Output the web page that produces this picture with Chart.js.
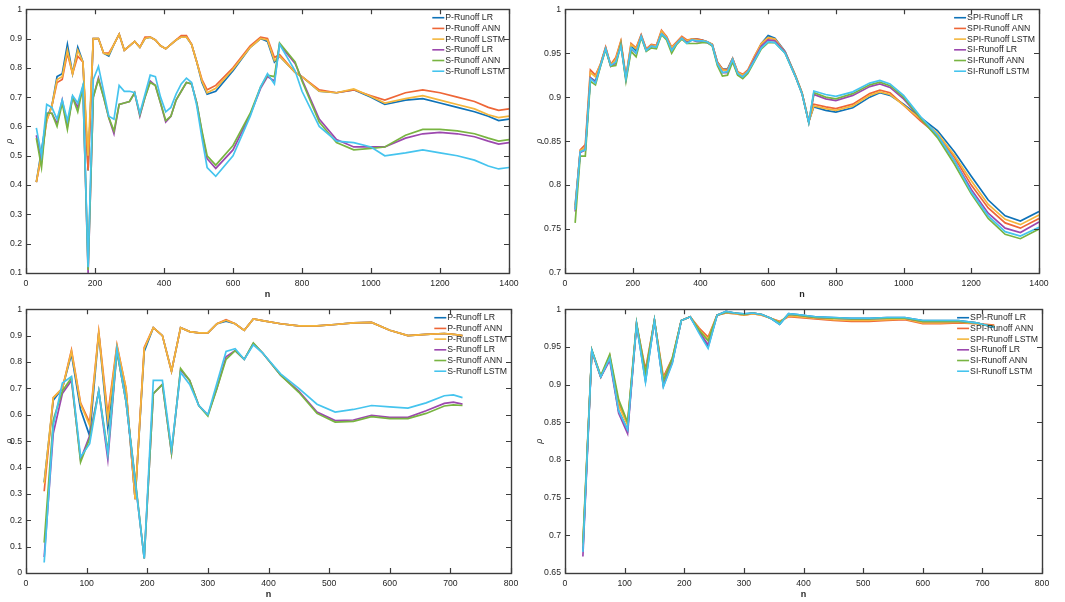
<!DOCTYPE html>
<html>
<head>
<meta charset="utf-8">
<script src="https://cdn.jsdelivr.net/npm/chart.js@4.4.1/dist/chart.umd.min.js"></script>
<style>
  html, body { margin: 0; padding: 0; background: #fff; }
  #page { position: relative; width: 1065px; height: 602px; overflow: hidden; }
  .panel { position: absolute; }
</style>
</head>
<body>
<div id="page">
  <div class="panel" style="left:0;top:0;width:530px;height:300px"><canvas id="tl"></canvas></div>
  <div class="panel" style="left:530px;top:0;width:535px;height:300px"><canvas id="tr"></canvas></div>
  <div class="panel" style="left:0;top:300px;width:530px;height:302px"><canvas id="bl"></canvas></div>
  <div class="panel" style="left:530px;top:300px;width:535px;height:302px"><canvas id="br"></canvas></div>
</div>
<script>
// ---- legend labels ----
const labelsP = ['P-Runoff LR', 'P-Runoff ANN', 'P-Runoff LSTM', 'S-Runoff LR', 'S-Runoff ANN', 'S-Runoff LSTM'];
const labelsSPI = ['SPI-Runoff LR', 'SPI-Runoff ANN', 'SPI-Runoff LSTM', 'SI-Runoff LR', 'SI-Runoff ANN', 'SI-Runoff LSTM'];
const colors = ['#0E72B8', '#EE6637', '#F4B63C', '#9C48AE', '#78B441', '#45C4EE'];

// ---- tick values ----
const xTicksTop = [0, 200, 400, 600, 800, 1000, 1200, 1400];
const xTicksBottom = [0, 100, 200, 300, 400, 500, 600, 700, 800];
const yTicksTL = [0.1, 0.2, 0.3, 0.4, 0.5, 0.6, 0.7, 0.8, 0.9, 1];
const yTicksTR = [0.7, 0.75, 0.8, 0.85, 0.9, 0.95, 1];
const yTicksBL = [0, 0.1, 0.2, 0.3, 0.4, 0.5, 0.6, 0.7, 0.8, 0.9, 1];
const yTicksBR = [0.65, 0.7, 0.75, 0.8, 0.85, 0.9, 0.95, 1];

// ---- top left: P / S runoff ----
const nTL = [30, 45, 60, 75, 90, 105, 120, 135, 150, 165, 180, 195, 210, 225, 240, 255, 270, 285, 300, 315, 330, 345, 360, 375, 390, 405, 420, 435, 450, 465, 480, 495, 510, 525,
  550, 600, 650, 680, 700, 720, 735, 780, 800, 850, 900, 950, 1000, 1040, 1100, 1150, 1200, 1250, 1300, 1340, 1370, 1400];
const tlPLR = [0.41, 0.52, 0.63, 0.67, 0.77, 0.78, 0.88, 0.78, 0.87, 0.82, 0.45, 0.90, 0.90, 0.85, 0.84, 0.88, 0.915, 0.86, 0.875, 0.89, 0.87, 0.90, 0.905, 0.895, 0.875, 0.865, 0.88, 0.895, 0.905, 0.905, 0.88, 0.82, 0.75, 0.71,
  0.72, 0.79, 0.87, 0.90, 0.89, 0.82, 0.84, 0.785, 0.77, 0.72, 0.715, 0.725, 0.70, 0.675, 0.69, 0.695, 0.68, 0.665, 0.65, 0.635, 0.62, 0.625];
const tlPANN = [0.41, 0.50, 0.62, 0.67, 0.75, 0.76, 0.85, 0.78, 0.84, 0.82, 0.45, 0.90, 0.90, 0.85, 0.85, 0.88, 0.915, 0.86, 0.875, 0.89, 0.87, 0.905, 0.905, 0.895, 0.875, 0.865, 0.88, 0.895, 0.91, 0.91, 0.88, 0.82, 0.76, 0.725,
  0.74, 0.80, 0.875, 0.905, 0.90, 0.835, 0.845, 0.785, 0.77, 0.725, 0.715, 0.725, 0.705, 0.69, 0.715, 0.725, 0.715, 0.70, 0.685, 0.665, 0.655, 0.66];
const tlPLSTM = [0.41, 0.51, 0.62, 0.67, 0.76, 0.77, 0.86, 0.78, 0.86, 0.82, 0.50, 0.90, 0.90, 0.85, 0.845, 0.88, 0.915, 0.86, 0.875, 0.89, 0.87, 0.90, 0.905, 0.895, 0.875, 0.865, 0.88, 0.895, 0.905, 0.905, 0.88, 0.82, 0.755, 0.715,
  0.73, 0.795, 0.87, 0.90, 0.895, 0.825, 0.84, 0.785, 0.77, 0.72, 0.715, 0.728, 0.702, 0.68, 0.695, 0.705, 0.69, 0.675, 0.66, 0.64, 0.63, 0.635];
const tlSLR = [0.57, 0.48, 0.645, 0.645, 0.61, 0.69, 0.60, 0.70, 0.665, 0.735, 0.10, 0.70, 0.765, 0.70, 0.63, 0.575, 0.675, 0.68, 0.685, 0.715, 0.635, 0.70, 0.755, 0.74, 0.68, 0.615, 0.635, 0.69, 0.72, 0.75, 0.745, 0.68, 0.58, 0.49,
  0.457, 0.52, 0.64, 0.73, 0.77, 0.755, 0.88, 0.815, 0.76, 0.625, 0.555, 0.53, 0.53, 0.53, 0.56, 0.575, 0.58, 0.575, 0.565, 0.55, 0.54, 0.545];
const tlSANN = [0.56, 0.46, 0.645, 0.645, 0.60, 0.68, 0.59, 0.70, 0.65, 0.735, 0.11, 0.70, 0.76, 0.70, 0.63, 0.585, 0.675, 0.68, 0.685, 0.715, 0.64, 0.70, 0.75, 0.74, 0.68, 0.62, 0.635, 0.69, 0.72, 0.75, 0.745, 0.68, 0.585, 0.50,
  0.468, 0.535, 0.645, 0.735, 0.775, 0.77, 0.885, 0.82, 0.755, 0.615, 0.545, 0.52, 0.525, 0.53, 0.57, 0.59, 0.59, 0.585, 0.575, 0.56, 0.55, 0.555];
const tlSLSTM = [0.595, 0.50, 0.675, 0.665, 0.625, 0.69, 0.62, 0.705, 0.68, 0.74, 0.12, 0.76, 0.805, 0.72, 0.635, 0.625, 0.74, 0.72, 0.72, 0.715, 0.645, 0.71, 0.775, 0.77, 0.70, 0.65, 0.665, 0.71, 0.745, 0.765, 0.75, 0.67, 0.56, 0.46,
  0.43, 0.50, 0.635, 0.735, 0.78, 0.745, 0.88, 0.79, 0.72, 0.60, 0.55, 0.545, 0.53, 0.50, 0.51, 0.52, 0.51, 0.50, 0.485, 0.465, 0.455, 0.46];

// ---- top right: SPI / SI runoff ----
const nTR = [30, 45, 60, 75, 90, 105, 120, 135, 150, 165, 180, 195, 210, 225, 240, 255, 270, 285, 300, 315, 330, 345, 360, 375, 390, 405, 420, 435, 450, 465, 480, 495, 510, 525, 540,
  560, 580, 600, 620, 650, 680, 700, 720, 735, 770, 800, 850, 900, 930, 960, 1000, 1050, 1100, 1150, 1200, 1250, 1300, 1345, 1400];
const trLR = [0.777, 0.838, 0.840, 0.922, 0.918, 0.937, 0.956, 0.936, 0.940, 0.962, 0.922, 0.958, 0.953, 0.970, 0.954, 0.959, 0.958, 0.974, 0.968, 0.955, 0.962, 0.968, 0.963, 0.966, 0.966, 0.965, 0.963, 0.960, 0.940, 0.932, 0.932, 0.944, 0.928, 0.925, 0.930,
  0.945, 0.961, 0.970, 0.967, 0.952, 0.925, 0.905, 0.872, 0.889, 0.885, 0.883, 0.888, 0.900, 0.905, 0.902, 0.892, 0.877, 0.862, 0.838, 0.810, 0.783, 0.765, 0.759, 0.770];
const trANN = [0.773, 0.840, 0.846, 0.931, 0.925, 0.938, 0.957, 0.937, 0.945, 0.964, 0.923, 0.961, 0.956, 0.971, 0.955, 0.960, 0.959, 0.976, 0.969, 0.957, 0.963, 0.969, 0.965, 0.966, 0.966, 0.965, 0.963, 0.960, 0.940, 0.932, 0.931, 0.944, 0.929, 0.926, 0.931,
  0.947, 0.961, 0.967, 0.966, 0.951, 0.925, 0.905, 0.872, 0.892, 0.889, 0.887, 0.892, 0.904, 0.908, 0.905, 0.891, 0.873, 0.857, 0.832, 0.800, 0.774, 0.757, 0.751, 0.762];
const trLSTM = [0.775, 0.839, 0.843, 0.928, 0.923, 0.938, 0.956, 0.936, 0.943, 0.963, 0.922, 0.960, 0.955, 0.970, 0.954, 0.959, 0.958, 0.975, 0.968, 0.956, 0.962, 0.968, 0.964, 0.966, 0.965, 0.964, 0.963, 0.960, 0.939, 0.931, 0.930, 0.943, 0.928, 0.925, 0.930,
  0.946, 0.961, 0.968, 0.966, 0.951, 0.925, 0.905, 0.872, 0.890, 0.887, 0.885, 0.890, 0.902, 0.906, 0.903, 0.891, 0.875, 0.859, 0.834, 0.805, 0.778, 0.761, 0.755, 0.766];
const trSLR = [0.770, 0.837, 0.840, 0.922, 0.917, 0.936, 0.955, 0.935, 0.939, 0.960, 0.920, 0.955, 0.950, 0.969, 0.953, 0.958, 0.957, 0.972, 0.967, 0.953, 0.961, 0.967, 0.962, 0.965, 0.963, 0.963, 0.962, 0.959, 0.938, 0.928, 0.928, 0.942, 0.926, 0.923, 0.929,
  0.944, 0.958, 0.965, 0.964, 0.951, 0.924, 0.904, 0.871, 0.903, 0.898, 0.896, 0.902, 0.912, 0.915, 0.911, 0.898, 0.876, 0.856, 0.828, 0.795, 0.768, 0.751, 0.746, 0.758];
const trSANN = [0.757, 0.833, 0.833, 0.918, 0.914, 0.935, 0.954, 0.935, 0.936, 0.960, 0.918, 0.952, 0.946, 0.968, 0.952, 0.956, 0.955, 0.971, 0.965, 0.950, 0.960, 0.966, 0.961, 0.961, 0.961, 0.962, 0.962, 0.958, 0.936, 0.924, 0.925, 0.940, 0.925, 0.921, 0.927,
  0.941, 0.955, 0.962, 0.962, 0.950, 0.924, 0.904, 0.871, 0.905, 0.900, 0.898, 0.904, 0.914, 0.917, 0.913, 0.900, 0.876, 0.854, 0.824, 0.790, 0.762, 0.744, 0.739, 0.750];
const trSLSTM = [0.772, 0.838, 0.840, 0.921, 0.916, 0.936, 0.955, 0.936, 0.940, 0.958, 0.921, 0.956, 0.950, 0.969, 0.953, 0.958, 0.957, 0.972, 0.967, 0.953, 0.961, 0.967, 0.961, 0.965, 0.964, 0.964, 0.963, 0.959, 0.938, 0.928, 0.929, 0.943, 0.927, 0.923, 0.929,
  0.942, 0.956, 0.963, 0.962, 0.950, 0.924, 0.904, 0.871, 0.907, 0.903, 0.901, 0.906, 0.916, 0.919, 0.915, 0.902, 0.878, 0.857, 0.828, 0.792, 0.765, 0.747, 0.742, 0.752];

// ---- bottom panels share one n grid ----
const nB = [30, 45, 60, 75, 90, 105, 120, 135, 150, 165, 180, 195, 210, 225, 240, 255, 270, 285, 300, 315, 330, 345, 360, 375, 390,
  420, 450, 480, 510, 540, 570, 600, 630, 660, 690, 705, 720];
const blPLR = [0.345, 0.655, 0.70, 0.83, 0.62, 0.52, 0.91, 0.55, 0.85, 0.69, 0.28, 0.84, 0.93, 0.90, 0.765, 0.93, 0.915, 0.91, 0.91, 0.945, 0.955, 0.945, 0.92, 0.963, 0.957,
  0.945, 0.937, 0.937, 0.942, 0.948, 0.95, 0.92, 0.90, 0.905, 0.908, 0.905, 0.90];
const blPANN = [0.31, 0.665, 0.70, 0.845, 0.645, 0.57, 0.915, 0.60, 0.865, 0.70, 0.28, 0.855, 0.93, 0.90, 0.765, 0.93, 0.915, 0.91, 0.91, 0.945, 0.96, 0.945, 0.92, 0.963, 0.957,
  0.945, 0.937, 0.937, 0.942, 0.948, 0.95, 0.92, 0.90, 0.905, 0.908, 0.905, 0.90];
const blPLSTM = [0.34, 0.665, 0.70, 0.84, 0.64, 0.56, 0.91, 0.58, 0.86, 0.70, 0.28, 0.85, 0.93, 0.90, 0.765, 0.93, 0.915, 0.91, 0.91, 0.945, 0.958, 0.945, 0.92, 0.963, 0.957,
  0.945, 0.937, 0.937, 0.942, 0.948, 0.95, 0.92, 0.90, 0.905, 0.908, 0.905, 0.90];
const blSLR = [0.06, 0.53, 0.68, 0.73, 0.43, 0.52, 0.69, 0.43, 0.84, 0.65, 0.35, 0.055, 0.68, 0.715, 0.455, 0.77, 0.73, 0.635, 0.60, 0.70, 0.82, 0.843, 0.81, 0.87, 0.835,
  0.75, 0.69, 0.61, 0.578, 0.58, 0.598, 0.59, 0.59, 0.615, 0.643, 0.648, 0.64];
const blSANN = [0.115, 0.58, 0.69, 0.74, 0.42, 0.51, 0.69, 0.46, 0.84, 0.65, 0.36, 0.055, 0.68, 0.715, 0.455, 0.775, 0.73, 0.635, 0.595, 0.70, 0.81, 0.843, 0.81, 0.872, 0.835,
  0.75, 0.685, 0.605, 0.572, 0.575, 0.593, 0.585, 0.585, 0.605, 0.633, 0.637, 0.635];
const blSLSTM = [0.04, 0.56, 0.72, 0.745, 0.44, 0.49, 0.69, 0.45, 0.85, 0.65, 0.35, 0.055, 0.73, 0.73, 0.47, 0.76, 0.715, 0.635, 0.60, 0.72, 0.84, 0.85, 0.81, 0.865, 0.835,
  0.755, 0.70, 0.64, 0.61, 0.62, 0.635, 0.63, 0.625, 0.645, 0.672, 0.675, 0.665];

const brLR = [0.680, 0.945, 0.910, 0.936, 0.865, 0.840, 0.980, 0.905, 0.985, 0.898, 0.930, 0.985, 0.990, 0.970, 0.950, 0.992, 0.997, 0.995, 0.994, 0.995, 0.993, 0.988, 0.980, 0.994, 0.993,
  0.990, 0.989, 0.988, 0.988, 0.989, 0.989, 0.985, 0.985, 0.985, 0.982, 0.979, 0.976];
const brANN = [0.685, 0.945, 0.910, 0.938, 0.875, 0.848, 0.980, 0.920, 0.985, 0.910, 0.935, 0.985, 0.990, 0.975, 0.963, 0.992, 0.995, 0.994, 0.992, 0.994, 0.992, 0.988, 0.984, 0.990, 0.989,
  0.987, 0.985, 0.984, 0.984, 0.985, 0.986, 0.981, 0.981, 0.982, 0.981, 0.980, 0.979];
const brLSTM = [0.685, 0.945, 0.910, 0.938, 0.872, 0.846, 0.980, 0.915, 0.985, 0.907, 0.933, 0.985, 0.990, 0.973, 0.960, 0.992, 0.995, 0.994, 0.992, 0.994, 0.992, 0.988, 0.983, 0.991, 0.990,
  0.988, 0.986, 0.985, 0.985, 0.986, 0.987, 0.982, 0.982, 0.983, 0.981, 0.979, 0.978];
const brSLR = [0.672, 0.945, 0.910, 0.932, 0.862, 0.835, 0.980, 0.910, 0.985, 0.900, 0.930, 0.985, 0.990, 0.970, 0.953, 0.992, 0.996, 0.995, 0.993, 0.995, 0.993, 0.988, 0.981, 0.993, 0.992,
  0.989, 0.988, 0.987, 0.987, 0.988, 0.988, 0.984, 0.984, 0.984, 0.982, 0.979, 0.977];
const brSANN = [0.690, 0.946, 0.912, 0.940, 0.880, 0.850, 0.982, 0.915, 0.986, 0.905, 0.935, 0.985, 0.990, 0.972, 0.958, 0.992, 0.996, 0.995, 0.993, 0.995, 0.993, 0.988, 0.982, 0.993, 0.992,
  0.989, 0.988, 0.987, 0.987, 0.988, 0.988, 0.984, 0.984, 0.984, 0.982, 0.979, 0.977];
const brSLSTM = [0.678, 0.945, 0.910, 0.935, 0.865, 0.840, 0.980, 0.903, 0.985, 0.897, 0.928, 0.985, 0.990, 0.968, 0.948, 0.992, 0.997, 0.995, 0.994, 0.995, 0.993, 0.988, 0.980, 0.994, 0.993,
  0.990, 0.989, 0.988, 0.988, 0.989, 0.989, 0.985, 0.985, 0.985, 0.982, 0.979, 0.976];

const FONT = '"Liberation Sans", Arial, Helvetica, sans-serif';
const AXIS = '#3c3c3c';
const TEXT = '#262626';

// matlab-like box with inward ticks on all four sides
const boxPlugin = {
  id: 'box',
  afterDatasetsDraw(chart) {
    const { ctx, chartArea: a, scales: { x, y } } = chart;
    const L = 5;
    ctx.save();
    ctx.strokeStyle = AXIS;
    ctx.lineWidth = 1.4;
    ctx.strokeRect(Math.round(a.left) + 0.5, Math.round(a.top) + 0.5,
      Math.round(a.right - a.left), Math.round(a.bottom - a.top));
    ctx.lineWidth = 1.2;
    ctx.beginPath();
    x.ticks.forEach(t => {
      const px = Math.round(x.getPixelForValue(t.value)) + 0.5;
      ctx.moveTo(px, a.bottom); ctx.lineTo(px, a.bottom - L);
      ctx.moveTo(px, a.top); ctx.lineTo(px, a.top + L);
    });
    y.ticks.forEach(t => {
      const py = Math.round(y.getPixelForValue(t.value)) + 0.5;
      ctx.moveTo(a.left, py); ctx.lineTo(a.left + L, py);
      ctx.moveTo(a.right, py); ctx.lineTo(a.right - L, py);
    });
    ctx.stroke();
    ctx.restore();
  }
};

// legend in the top right corner of the plot area, no frame
const legendPlugin = {
  id: 'cornerLegend',
  afterDraw(chart) {
    const { ctx, chartArea: a } = chart;
    const sets = chart.data.datasets;
    ctx.save();
    ctx.font = '8.7px ' + FONT;
    const maxW = Math.max(...sets.map(d => ctx.measureText(d.label).width));
    const x0 = a.right - 4 - maxW - 13;
    const rowH = 10.7;
    sets.forEach((d, i) => {
      const yy = a.top + 8.5 + i * rowH;
      ctx.strokeStyle = d.borderColor;
      ctx.lineWidth = 1.6;
      ctx.beginPath();
      ctx.moveTo(x0, yy); ctx.lineTo(x0 + 12, yy);
      ctx.stroke();
      ctx.fillStyle = TEXT;
      ctx.textBaseline = 'middle';
      ctx.fillText(d.label, x0 + 13, yy);
    });
    ctx.restore();
  }
};

function fmt(v) { return String(+v.toFixed(3)); }

function makePanel(id, ns, series, labels, xTicks, yTicks, lay) {
  const datasets = series.map((vals, i) => ({
    label: labels[i],
    data: ns.map((n, j) => ({ x: n, y: vals[j] })),
    borderColor: colors[i],
    backgroundColor: colors[i],
    borderWidth: 1.7,
    pointRadius: 0,
    tension: 0,
    order: series.length - i
  }));
  return new Chart(document.getElementById(id), {
    type: 'line',
    data: { datasets },
    options: {
      responsive: true,
      maintainAspectRatio: false,
      animation: false,
      events: [],
      layout: { padding: { left: 0, top: 5, right: lay.right, bottom: 0 } },
      plugins: { legend: { display: false }, tooltip: { enabled: false } },
      scales: {
        x: {
          type: 'linear',
          min: xTicks[0], max: xTicks[xTicks.length - 1],
          afterBuildTicks: s => { s.ticks = xTicks.map(v => ({ value: v })); },
          afterFit: s => { s.height = lay.xh; },
          grid: { display: false, drawTicks: false },
          border: { display: false },
          ticks: { color: TEXT, font: { family: FONT, size: 8.7 }, padding: 5, maxRotation: 0, autoSkip: false, callback: fmt },
          title: { display: true, text: 'n', color: TEXT, font: { family: FONT, size: 9, weight: 'bold' }, padding: { top: 0, bottom: lay.titlePad } }
        },
        y: {
          type: 'linear',
          min: yTicks[0], max: yTicks[yTicks.length - 1],
          afterBuildTicks: s => { s.ticks = yTicks.map(v => ({ value: v })); },
          afterFit: s => { s.width = lay.yw; },
          grid: { display: false, drawTicks: false },
          border: { display: false },
          ticks: { color: TEXT, font: { family: FONT, size: 8.7 }, padding: 4, autoSkip: false, callback: fmt },
          title: { display: true, text: 'ρ', color: TEXT, font: { family: FONT, size: 9, style: 'italic' }, padding: { top: 4.5, bottom: 0 } }
        }
      }
    },
    plugins: [boxPlugin, legendPlugin]
  });
}

makePanel('tl', nTL, [tlPLR, tlPANN, tlPLSTM, tlSLR, tlSANN, tlSLSTM], labelsP, xTicksTop, yTicksTL,
  { right: 21, xh: 27, yw: 26, titlePad: 0.5 });
makePanel('tr', nTR, [trLR, trANN, trLSTM, trSLR, trSANN, trSLSTM], labelsSPI, xTicksTop, yTicksTR,
  { right: 26, xh: 27, yw: 35, titlePad: 0.5 });
makePanel('bl', nB, [blPLR, blPANN, blPLSTM, blSLR, blSANN, blSLSTM], labelsP, xTicksBottom, yTicksBL,
  { right: 19, xh: 29, yw: 26, titlePad: 2 });
makePanel('br', nB, [brLR, brANN, brLSTM, brSLR, brSANN, brSLSTM], labelsSPI, xTicksBottom, yTicksBR,
  { right: 23, xh: 29, yw: 35, titlePad: 2 });
</script>
</body>
</html>
